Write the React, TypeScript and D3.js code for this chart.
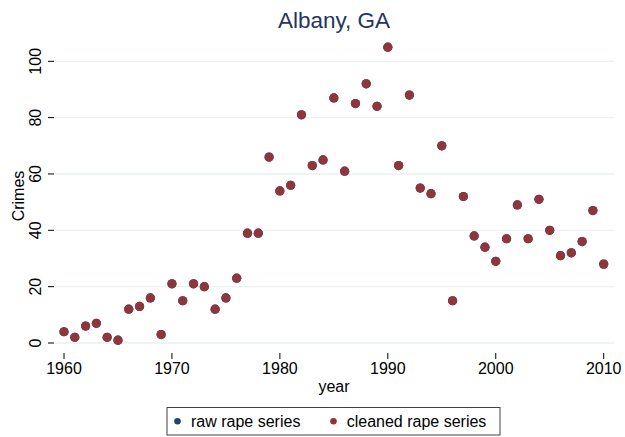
import React from "react";
import * as d3 from "d3";

const years: number[] = d3.range(1960, 2011);
const cleanedRape: number[] = [
  4, 2, 6, 7, 2, 1, 12, 13, 16, 3,
  21, 15, 21, 20, 12, 16, 23, 39, 39, 66,
  54, 56, 81, 63, 65, 87, 61, 85, 92, 84,
  105, 63, 88, 55, 53, 70, 15, 52, 38, 34,
  29, 37, 49, 37, 51, 40, 31, 32, 36, 47,
  28,
];
const rawRape: number[] = cleanedRape.slice();
const xTicks: number[] = [1960, 1970, 1980, 1990, 2000, 2010];
const yTicks: number[] = [0, 20, 40, 60, 80, 100];
const seriesNames: string[] = ["raw rape series", "cleaned rape series"];
const seriesColors: string[] = ["#1a476f", "#90353b"];

export default function App() {
  const W = 625, H = 437;
  const x = d3.scaleLinear().domain([1960, 2010]).range([64, 603.7]);
  const y = d3.scaleLinear().domain([0, 100]).range([343, 61.3]);
  const font = "'Liberation Sans', Arial, Helvetica, sans-serif";
  return (
    <svg width={W} height={H} style={{ position: "absolute", left: 0, top: 0, background: "#fff" }} fontFamily={font}>
      <rect x={0} y={0} width={W} height={H} fill="#ffffff" />
      <text x={334} y={28.3} textAnchor="middle" fontSize={22.5} fill="#23365f">Albany, GA</text>
      {yTicks.map((t) => (
        <g key={t}>
          <line x1={54} x2={614.3} y1={y(t)} y2={y(t)} stroke="#eaf2f3" strokeWidth={1.3} />
          <line x1={48} x2={54} y1={y(t)} y2={y(t)} stroke="#000" strokeWidth={1} />
          <text transform={`translate(40.5,${y(t)}) rotate(-90)`} textAnchor="middle" fontSize={16} fill="#000">{t}</text>
        </g>
      ))}
      {xTicks.map((t) => (
        <g key={t}>
          <line x1={x(t)} x2={x(t)} y1={353} y2={359} stroke="#000" strokeWidth={1} />
          <text x={x(t)} y={374} textAnchor="middle" fontSize={16} fill="#000">{t}</text>
        </g>
      ))}
      <text transform={`translate(23.5,196) rotate(-90)`} textAnchor="middle" fontSize={16} fill="#000">Crimes</text>
      <text x={334} y={392} textAnchor="middle" fontSize={16} fill="#000">year</text>
      {years.map((yr, i) => (
        <circle key={"r" + yr} cx={x(yr)} cy={y(rawRape[i])} r={4.6} fill={seriesColors[0]} />
      ))}
      {years.map((yr, i) => (
        <circle key={"c" + yr} cx={x(yr)} cy={y(cleanedRape[i])} r={4.6} fill={seriesColors[1]} />
      ))}
      <rect x={167} y={407.5} width={333} height={27.5} fill="#fff" stroke="#404040" strokeWidth={1} />
      <circle cx={177.5} cy={421.3} r={3.3} fill={seriesColors[0]} />
      <text x={191} y={426.8} fontSize={16} fill="#000">{seriesNames[0]}</text>
      <circle cx={333.5} cy={421.3} r={3.3} fill={seriesColors[1]} />
      <text x={346.7} y={426.8} fontSize={16} fill="#000">{seriesNames[1]}</text>
    </svg>
  );
}
